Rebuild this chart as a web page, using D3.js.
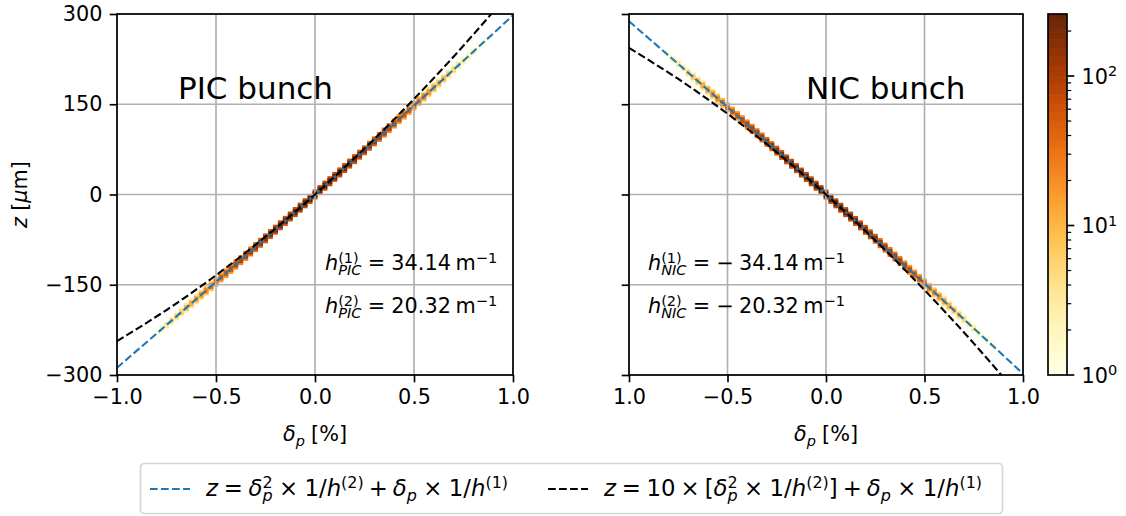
<!DOCTYPE html>
<html>
<head>
<meta charset="utf-8">
<script src="https://cdn.jsdelivr.net/npm/d3@7"></script>
<style>
  body { margin: 0; background: #fff; }
  svg { font-family: "DejaVu Sans", sans-serif; }
</style>
</head>
<body>
<svg id="chart" width="1126" height="516"></svg>
<script>
// fitted curves, sampled on the delta ticks (delta in %, z in um)
const fitDelta = [-1, -0.75, -0.5, -0.25, 0, 0.25, 0.5, 0.75, 1];
const picQuad = [-288.0, -216.9, -145.2, -72.9, 0, 73.5, 147.7, 222.4, 297.8];
const picQuad10 = [-243.7, -192.0, -134.2, -70.1, 0, 76.3, 158.8, 247.4, 342.1];
const nicQuad = [288.0, 216.9, 145.2, 72.9, 0, -73.5, -147.7, -222.4, -297.8];
const nicQuad10 = [243.7, 192.0, 134.2, 70.1, 0, -76.3, -158.8, -247.4, -342.1];

// 2D histogram cells along the bunch (delta bin centres, z of the filled bin, counts)
const binDelta = [-0.8, -0.775, -0.75, -0.725, -0.7, -0.675, -0.65, -0.625, -0.6, -0.575, -0.55, -0.525,
  -0.5, -0.475, -0.45, -0.425, -0.4, -0.375, -0.35, -0.325, -0.3, -0.275, -0.25, -0.225, -0.2, -0.175,
  -0.15, -0.125, -0.1, -0.075, -0.05, -0.025, 0, 0.025, 0.05, 0.075, 0.1, 0.125, 0.15, 0.175, 0.2, 0.225,
  0.25, 0.275, 0.3, 0.325, 0.35, 0.375, 0.4, 0.425, 0.45, 0.475, 0.5, 0.525, 0.55, 0.575, 0.6, 0.625,
  0.65, 0.675, 0.7, 0.725, 0.75, 0.775, 0.8, 0.825, 0.85];
const picZ = [-231.2, -224.0, -216.9, -209.8, -202.6, -195.5, -188.3, -181.2, -174.0, -166.8, -159.6, -152.4,
  -145.2, -138.0, -130.8, -123.6, -116.4, -109.1, -101.9, -94.7, -87.4, -80.2, -72.9, -65.7, -58.4, -51.1,
  -43.8, -36.5, -29.2, -21.9, -14.6, -7.3, 0, 7.3, 14.7, 22.0, 29.3, 36.7, 44.0, 51.4, 58.8, 66.2,
  73.5, 80.9, 88.3, 95.7, 103.1, 110.5, 118.0, 125.4, 132.8, 140.2, 147.7, 155.1, 162.6, 170.0, 177.5, 185.0,
  192.5, 200.0, 207.4, 214.9, 222.4, 229.9, 237.5, 245.0, 252.5];
const nicZ = [231.2, 224.0, 216.9, 209.8, 202.6, 195.5, 188.3, 181.2, 174.0, 166.8, 159.6, 152.4,
  145.2, 138.0, 130.8, 123.6, 116.4, 109.1, 101.9, 94.7, 87.4, 80.2, 72.9, 65.7, 58.4, 51.1,
  43.8, 36.5, 29.2, 21.9, 14.6, 7.3, 0, -7.3, -14.7, -22.0, -29.3, -36.7, -44.0, -51.4, -58.8, -66.2,
  -73.5, -80.9, -88.3, -95.7, -103.1, -110.5, -118.0, -125.4, -132.8, -140.2, -147.7, -155.1, -162.6, -170.0, -177.5, -185.0,
  -192.5, -200.0, -207.4, -214.9, -222.4, -229.9, -237.5, -245.0, -252.5];
const picCount = [1, 2, 3, 4, 5, 6, 9, 11, 14, 17, 22, 27,
  33, 42, 50, 58, 71, 80, 95, 105, 123, 135, 150, 168, 180, 197,
  206, 222, 228, 240, 244, 250, 252, 247, 243, 236, 230, 218, 211, 193, 183, 165,
  154, 134, 124, 105, 96, 79, 72, 57, 50, 40, 35, 27, 23, 17, 15, 10,
  9, 6, 5, 4, 3, 2, 2, 1, 1];
const nicCount = [1, 2, 3, 3, 5, 7, 8, 12, 13, 18, 21, 29,
  34, 40, 49, 60, 69, 83, 92, 108, 120, 138, 151, 166, 183, 194,
  210, 220, 232, 238, 246, 248, 251, 249, 244, 240, 229, 222, 207, 197, 179, 168,
  150, 138, 120, 108, 93, 82, 68, 60, 48, 42, 33, 28, 21, 18, 13, 11,
  8, 7, 5, 3, 3, 2, 1, 1, 1];

const xTicks = [-1, -0.5, 0, 0.5, 1];
const xTickLabelsPIC = ['\u22121.0', '\u22120.5', '0.0', '0.5', '1.0'];
const xTickLabelsNIC = ['1.0', '\u22120.5', '0.0', '0.5', '1.0'];
const yTicks = [-300, -150, 0, 150, 300];
const yTickLabels = ['\u2212300', '\u2212150', '0', '150', '300'];
const cbTicks = [1, 10, 100];
const cbMinor = [2, 3, 4, 5, 6, 7, 8, 9, 20, 30, 40, 50, 60, 70, 80, 90, 200];
const cMax = 260;

const binW = 0.025, binH = 8.33;
const fs = 20.8;
const blue = '#1f77b4';

const svg = d3.select('#chart');
const plotTop = 14, plotBottom = 375;
const panels = [
  {x0: 117, x1: 513, z: picZ, count: picCount, quad: picQuad, quad10: picQuad10, xl: xTickLabelsPIC,
   title: 'PIC bunch', tx: 178, sub: 'PIC', v1: '34.14', v2: '20.32', neg: false, ax: 325, yLabels: true},
  {x0: 629, x1: 1023, z: nicZ, count: nicCount, quad: nicQuad, quad10: nicQuad10, xl: xTickLabelsNIC,
   title: 'NIC bunch', tx: 806, sub: 'NIC', v1: '34.14', v2: '20.32', neg: true, ax: 648, yLabels: false}
];

const color = d3.scaleSequentialLog(d3.interpolateYlOrBr).domain([1, cMax]);

// mathtext-ish helper: parts laid out left to right
function mtext(g, x, y, parts, size) {
  let cx = x;
  parts.forEach(p => {
    if (p.gap) { cx += p.gap * size; return; }
    const s = (p.sup || p.sub) ? size * 0.7 : size;
    const dy = p.sup ? -size * 0.36 : p.sub ? size * 0.24 : 0;
    const t = g.append('text').attr('x', cx).attr('y', y + dy)
      .attr('font-size', s).style('font-style', p.it ? 'italic' : 'normal')
      .attr('fill', '#000').text(p.s);
    const w = t.node().getComputedTextLength();
    if (!p.keep) cx += w;
  });
  return cx - x;
}

panels.forEach((P, pi) => {
  const x = d3.scaleLinear().domain([-1, 1]).range([P.x0, P.x1]);
  const y = d3.scaleLinear().domain([-300, 300]).range([plotBottom, plotTop]);
  const g = svg.append('g');
  const clipId = 'clip' + pi;
  g.append('clipPath').attr('id', clipId).append('rect')
    .attr('x', P.x0).attr('y', plotTop).attr('width', P.x1 - P.x0).attr('height', plotBottom - plotTop);

  // histogram: faint neighbouring bins first, then the filled bin
  const hist = g.append('g').attr('clip-path', 'url(#' + clipId + ')');
  hist.selectAll('rect.halo').data(binDelta).join('rect').attr('class', 'halo')
    .attr('x', d => x(d - binW / 2))
    .attr('width', x(binW) - x(0))
    .attr('y', (d, i) => y(P.z[i] + binH))
    .attr('height', y(0) - y(binH * 2))
    .attr('fill', (d, i) => color(Math.max(1, P.count[i] * 0.3)));
  hist.selectAll('rect.cell').data(binDelta).join('rect').attr('class', 'cell')
    .attr('x', d => x(d - binW / 2))
    .attr('width', x(binW) - x(0))
    .attr('y', (d, i) => y(P.z[i] + binH * 0.6))
    .attr('height', y(0) - y(binH * 1.2))
    .attr('fill', (d, i) => color(P.count[i]));

  // grid
  const grid = g.append('g').attr('stroke', '#b0b0b0').attr('stroke-width', 1.67);
  xTicks.forEach(t => grid.append('line').attr('x1', x(t)).attr('x2', x(t)).attr('y1', plotTop).attr('y2', plotBottom));
  yTicks.forEach(t => grid.append('line').attr('x1', P.x0).attr('x2', P.x1).attr('y1', y(t)).attr('y2', y(t)));

  // fit lines
  const line = d3.line().x((d, i) => x(fitDelta[i])).y(d => y(d)).curve(d3.curveNatural);
  const lines = g.append('g').attr('clip-path', 'url(#' + clipId + ')').attr('fill', 'none');
  lines.append('path').attr('d', line(P.quad)).attr('stroke', blue).attr('stroke-width', 2.1).attr('stroke-dasharray', '7.7,3.3');
  lines.append('path').attr('d', line(P.quad10)).attr('stroke', '#000').attr('stroke-width', 2.1).attr('stroke-dasharray', '7.7,3.3');

  // axes
  const xa = g.append('g').attr('transform', 'translate(0,' + plotBottom + ')')
    .call(d3.axisBottom(x).tickValues(xTicks).tickSize(7.3).tickPadding(7.3).tickFormat((d, i) => P.xl[i]));
  const ya = g.append('g').attr('transform', 'translate(' + P.x0 + ',0)')
    .call(d3.axisLeft(y).tickValues(yTicks).tickSize(7.3).tickPadding(7.3)
      .tickFormat((d, i) => P.yLabels ? yTickLabels[i] : ''));
  [xa, ya].forEach(a => {
    a.select('.domain').remove();
    a.selectAll('line').attr('stroke', '#000').attr('stroke-width', 1.67);
    a.selectAll('text').attr('font-size', fs).attr('fill', '#000').attr('font-family', '"DejaVu Sans"');
  });
  g.append('rect').attr('x', P.x0).attr('y', plotTop).attr('width', P.x1 - P.x0).attr('height', plotBottom - plotTop)
    .attr('fill', 'none').attr('stroke', '#000').attr('stroke-width', 1.67);

  // x label
  const xl = g.append('g');
  const w = mtext(xl, 0, 441, [{s: '\u03b4', it: true}, {s: 'p', sub: true, it: true}, {gap: 0.3}, {s: '[%]'}], fs);
  xl.attr('transform', 'translate(' + ((P.x0 + P.x1) / 2 - w / 2) + ',0)');

  // title
  g.append('text').attr('x', P.tx).attr('y', 99).attr('font-size', 31).attr('fill', '#000').text(P.title);

  // annotations
  const af = 20.8;
  [[P.v1, '(1)', 270], [P.v2, '(2)', 313]].forEach(([v, k, by]) => {
    const parts = [{s: 'h', it: true}, {s: k, sup: true, keep: true}, {s: P.sub, sub: true, it: true},
      {gap: 0.3}, {s: '='}, {gap: 0.3}];
    if (P.neg) parts.push({s: '\u2212'}, {gap: 0.25});
    parts.push({s: v}, {gap: 0.22}, {s: 'm'}, {s: '\u22121', sup: true});
    mtext(g, P.ax, by, parts, af);
  });
});

// y label
const yl = svg.append('g');
const yw = mtext(yl, 0, 0, [{s: 'z', it: true}, {gap: 0.3}, {s: '['}, {s: '\u03bc', it: true}, {s: 'm]'}], fs);
yl.attr('transform', 'translate(27,' + (194.5 + yw / 2) + ') rotate(-90)');

// colorbar
const cbX = 1048, cbW = 19;
const cy = d3.scaleLog().domain([1, cMax]).range([plotBottom, plotTop]);
const cb = svg.append('g');
const steps = d3.range(0, 200);
cb.selectAll('rect.s').data(steps).join('rect').attr('class', 's')
  .attr('x', cbX).attr('width', cbW)
  .attr('y', d => plotTop + (plotBottom - plotTop) * d / 200)
  .attr('height', (plotBottom - plotTop) / 200 + 0.6)
  .attr('fill', d => color(cy.invert(plotTop + (plotBottom - plotTop) * (d + 0.5) / 200)));
cb.append('rect').attr('x', cbX).attr('y', plotTop).attr('width', cbW).attr('height', plotBottom - plotTop)
  .attr('fill', 'none').attr('stroke', '#000').attr('stroke-width', 1.67);
cbMinor.forEach(t => cb.append('line').attr('x1', cbX + cbW).attr('x2', cbX + cbW + 4.2)
  .attr('y1', cy(t)).attr('y2', cy(t)).attr('stroke', '#000').attr('stroke-width', 1.2));
cbTicks.forEach((t, i) => {
  cb.append('line').attr('x1', cbX + cbW).attr('x2', cbX + cbW + 7.3)
    .attr('y1', cy(t)).attr('y2', cy(t)).attr('stroke', '#000').attr('stroke-width', 1.67);
  mtext(cb, cbX + cbW + 14.6, cy(t) + 7.5, [{s: '10'}, {s: String(i), sup: true}], fs);
});

// legend
const lg = svg.append('g');
lg.append('rect').attr('x', 140.5).attr('y', 463.5).attr('width', 862).attr('height', 50).attr('rx', 4)
  .attr('fill', '#fff').attr('stroke', '#d5d5d5').attr('stroke-width', 1.67);
const ly = 489;
const lfs = 22.8;
lg.append('line').attr('x1', 150).attr('x2', 190).attr('y1', ly).attr('y2', ly)
  .attr('stroke', blue).attr('stroke-width', 2.1).attr('stroke-dasharray', '7.7,3.3');
const w1 = mtext(lg, 190 + 16, ly + 7, [{s: 'z', it: true}, {gap: 0.25}, {s: '='}, {gap: 0.25}, {s: '\u03b4', it: true},
  {s: '2', sup: true, keep: true}, {s: 'p', sub: true, it: true}, {gap: 0.28}, {s: '\u00d7'}, {gap: 0.28},
  {s: '1/'}, {s: 'h', it: true}, {s: '(2)', sup: true}, {gap: 0.22}, {s: '+'}, {gap: 0.22},
  {s: '\u03b4', it: true}, {s: 'p', sub: true, it: true}, {gap: 0.28}, {s: '\u00d7'}, {gap: 0.28},
  {s: '1/'}, {s: 'h', it: true}, {s: '(1)', sup: true}], lfs);
const bx = 206 + w1 + 40;
lg.append('line').attr('x1', bx).attr('x2', bx + 40).attr('y1', ly).attr('y2', ly)
  .attr('stroke', '#000').attr('stroke-width', 2.1).attr('stroke-dasharray', '7.7,3.3');
mtext(lg, bx + 56, ly + 7, [{s: 'z', it: true}, {gap: 0.25}, {s: '='}, {gap: 0.25}, {s: '10'}, {gap: 0.22}, {s: '\u00d7'},
  {gap: 0.22}, {s: '['}, {s: '\u03b4', it: true},
  {s: '2', sup: true, keep: true}, {s: 'p', sub: true, it: true}, {gap: 0.28}, {s: '\u00d7'}, {gap: 0.28},
  {s: '1/'}, {s: 'h', it: true}, {s: '(2)', sup: true}, {s: ']'}, {gap: 0.22}, {s: '+'}, {gap: 0.22},
  {s: '\u03b4', it: true}, {s: 'p', sub: true, it: true}, {gap: 0.28}, {s: '\u00d7'}, {gap: 0.28},
  {s: '1/'}, {s: 'h', it: true}, {s: '(1)', sup: true}], lfs);
</script>
</body>
</html>
